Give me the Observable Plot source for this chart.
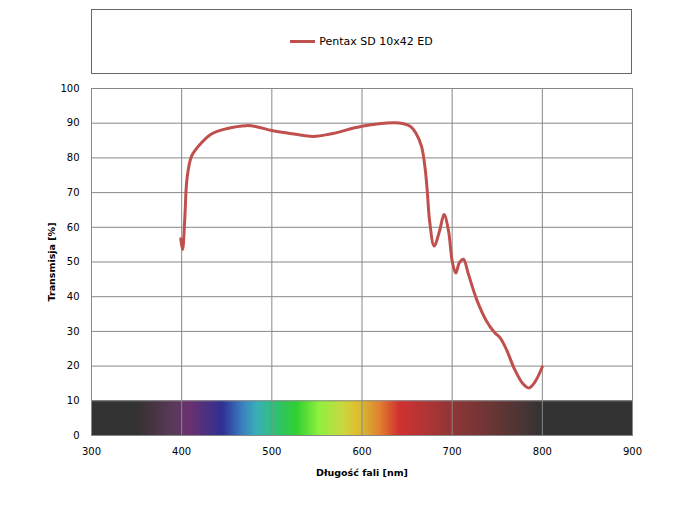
<!DOCTYPE html>
<html>
<head>
<meta charset="utf-8">
<script src="https://cdn.jsdelivr.net/npm/d3@7"></script>
<script src="https://cdn.jsdelivr.net/npm/@observablehq/plot@0.6"></script>
<style>
  html, body { margin: 0; padding: 0; background: #fff; }
  #wrap { position: relative; width: 680px; height: 510px; font-family: "DejaVu Sans", sans-serif; }
  #legend { position: absolute; left: 91px; top: 9px; width: 539px; height: 63px; border: 1px solid #666; box-sizing: content-box; display: flex; align-items: center; justify-content: center; }
  #legend .sw { width: 25px; height: 3px; background: #c0504d; margin-right: 4px; }
  #legend .lb { font-size: 11px; color: #000; }
  #chart { position: absolute; left: 0; top: 80px; }
</style>
</head>
<body>
<div id="wrap">
  <div id="legend"><span class="sw"></span><span class="lb">Pentax SD 10x42 ED</span></div>
  <div id="chart"></div>
</div>
<script>
const seriesName = "Pentax SD 10x42 ED";
const wavelength = [399, 401, 403.5, 406, 411, 420, 433, 449.5, 472, 483, 500, 517, 546, 565, 600, 635, 645, 654, 660, 666, 670, 672.5, 675, 680, 686, 691, 696, 700, 704, 708, 712.5, 718, 727, 738, 747, 753, 760, 769, 778.5, 785, 791.5, 800];
const transmission = [56.7, 53.6, 62.7, 74.2, 80.5, 83.8, 86.9, 88.4, 89.3, 89.0, 87.9, 87.2, 86.2, 86.9, 89.1, 90.1, 89.9, 89.0, 87.0, 83.3, 77.0, 70.0, 61.8, 54.6, 58.9, 63.7, 58.9, 50.3, 46.8, 49.8, 50.8, 46.5, 39.3, 33.0, 29.7, 28.2, 24.9, 19.2, 14.9, 13.7, 15.3, 19.8];
const xTicks = [300, 400, 500, 600, 700, 800, 900];
const yTicks = [0, 10, 20, 30, 40, 50, 60, 70, 80, 90, 100];
const spectrumNm = [300, 350, 373, 391, 410, 446, 468, 484, 506, 528, 553, 579, 594, 600, 620, 642, 672, 701, 745, 783, 800, 900];
const spectrumColor = ["#333333", "#333333", "#4a3545", "#5a3a5a", "#6a3070", "#2e3094", "#3a80c0", "#38b0b8", "#30c070", "#30d030", "#90f040", "#c8d840", "#e0c030", "#d8b830", "#e08030", "#d03030", "#b03535", "#903535", "#6a3535", "#453535", "#333333", "#333333"];
const bandRange = [{x1: 300, x2: 900, y1: 0, y2: 10}];

const data = wavelength.map((w, i) => ({w, t: transmission[i]}));

const plot = Plot.plot({
  width: 680,
  height: 430,
  marginLeft: 91,
  marginRight: 48,
  marginTop: 8,
  marginBottom: 75,
  style: {fontFamily: "DejaVu Sans, sans-serif", fontSize: "10px", color: "#000", background: "#fff"},
  x: {domain: [300, 900], ticks: xTicks},
  y: {domain: [0, 100], ticks: yTicks},
  marks: [
    Plot.rect(bandRange, {x1: "x1", x2: "x2", y1: "y1", y2: "y2", fill: "url(#spectrumGrad)"}),
    Plot.ruleY(yTicks, {stroke: "#888", strokeWidth: 1}),
    Plot.ruleX(xTicks, {stroke: "#888", strokeWidth: 1}),
    Plot.frame({stroke: "#888"}),
    Plot.axisX({ticks: xTicks, tickSize: 0, tickPadding: 12, label: "Długość fali [nm]", labelAnchor: "center", labelArrow: "none", labelOffset: 40, fontSize: 10}),
    Plot.axisY({ticks: yTicks, tickSize: 0, tickPadding: 12, label: "Transmisja [%]", labelAnchor: "center", labelArrow: "none", labelOffset: 43, fontSize: 10}),
    Plot.line(data, {x: "w", y: "t", stroke: "#c0504d", strokeWidth: 3, curve: "catmull-rom"})
  ]
});

// gradient definition for the spectrum band
const ns = "http://www.w3.org/2000/svg";
const defs = document.createElementNS(ns, "defs");
const grad = document.createElementNS(ns, "linearGradient");
grad.setAttribute("id", "spectrumGrad");
grad.setAttribute("x1", "0"); grad.setAttribute("x2", "1");
grad.setAttribute("y1", "0"); grad.setAttribute("y2", "0");
spectrumNm.forEach((nm, i) => {
  const s = document.createElementNS(ns, "stop");
  s.setAttribute("offset", ((nm - 300) / 600).toFixed(4));
  s.setAttribute("stop-color", spectrumColor[i]);
  grad.appendChild(s);
});
defs.appendChild(grad);
plot.insertBefore(defs, plot.firstChild);

// bold axis titles
plot.querySelectorAll("g[aria-label='x-axis label'] text, g[aria-label='y-axis label'] text").forEach(t => {
  t.setAttribute("font-weight", "bold");
  t.setAttribute("font-size", "9.5");
});

document.getElementById("chart").appendChild(plot);
</script>
</body>
</html>
